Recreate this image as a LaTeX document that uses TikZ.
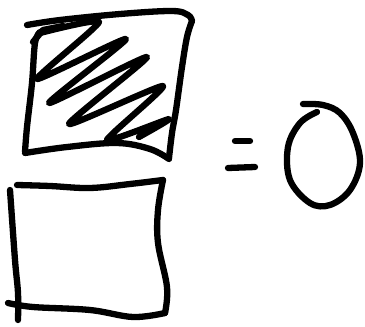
\documentclass[tikz,border=0pt]{standalone}
\begin{document}
\begin{tikzpicture}[x=1pt,y=-1pt,
  ink/.style={line width=6.3pt,line cap=round,line join=round,black}]
\useasboundingbox (0,0) rectangle (365,327);
% top square
\draw[ink] plot[smooth,tension=0.6] coordinates {(27,25) (60,20) (120,14) (172,11) (188,15) (192,21)};
\draw[ink] plot[smooth,tension=0.6] coordinates {(192,21) (187,37) (182,67) (176,110) (172,133) (169,158)};
\draw[ink] plot[smooth,tension=0.6] coordinates {(25,153) (67,147) (117,143) (150,149) (169,159)};
\draw[ink] plot[smooth,tension=0.6] coordinates {(40,32) (35,43) (32,83) (27,127) (25,152)};
% scribble
\draw[ink] (33,42) -- (43,30) -- (63,26);
\draw[ink] plot[smooth,tension=0.35] coordinates {(40,33) (99,22) (37,79) (126,39) (49,103) (147,57) (69,124) (163,86) (107,140) (169,119) (139,137)};
% bottom square
\draw[ink] plot[smooth,tension=0.6] coordinates {(17,185) (50,186) (90,188) (130,184) (163,180)};
\draw[ink] plot[smooth,tension=0.6] coordinates {(163,180) (158,210) (158,243) (167,287) (165,313)};
\draw[ink] plot[smooth,tension=0.6] coordinates {(165,313) (133,317) (90,310) (33,307) (8,303)};
\draw[ink] plot[smooth,tension=0.6] coordinates {(10,190) (15,260) (18,293) (18,320)};
% equals
\draw[ink] (235,141) -- (250,141);
\draw[ink] (228,168) -- (255,167);
% zero
\draw[ink] plot[smooth,tension=0.6] coordinates {(317,112) (300,123) (288,147) (290,180) (310,203) (330,205) (350,190) (360,163) (353,133) (340,113) (323,105) (303,104)};
\end{tikzpicture}
\end{document}
